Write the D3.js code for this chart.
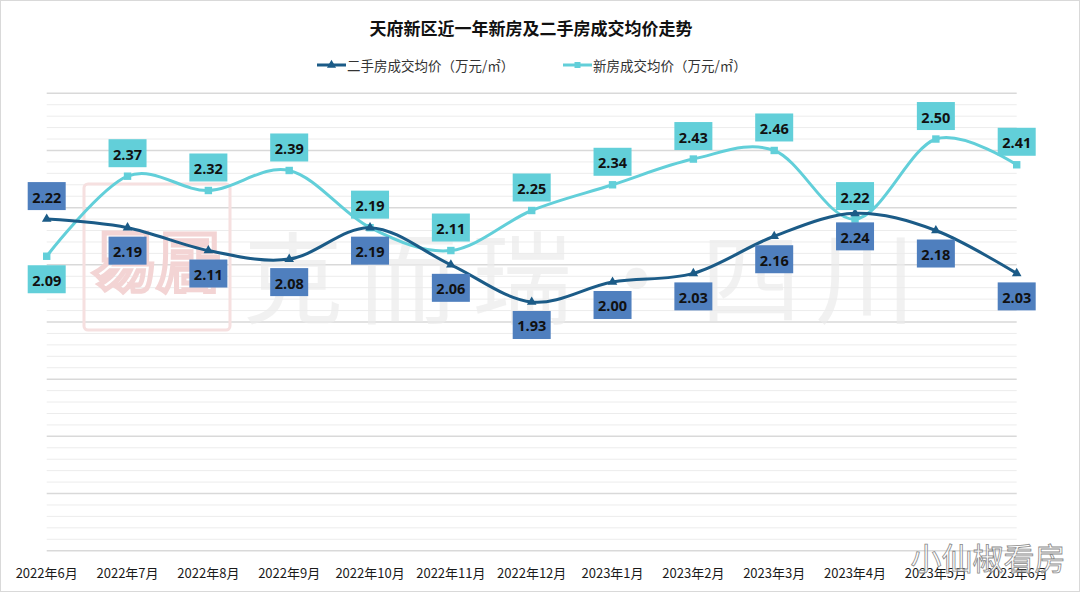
<!DOCTYPE html>
<html>
<head>
<meta charset="utf-8">
<script src="https://cdn.jsdelivr.net/npm/d3@7"></script>
<style>
  html, body { margin: 0; padding: 0; background: #fff; }
  svg { display: block; }
</style>
</head>
<body>
<svg id="chart" width="1080" height="592"></svg>
<script>
// months on the x axis
var months = ["2022年6月", "2022年7月", "2022年8月", "2022年9月", "2022年10月", "2022年11月", "2022年12月",
              "2023年1月", "2023年2月", "2023年3月", "2023年4月", "2023年5月", "2023年6月"];
// average deal price, 万元/㎡
var oldPrice = [2.22, 2.19, 2.11, 2.08, 2.19, 2.06, 1.93, 2.00, 2.03, 2.16, 2.24, 2.18, 2.03];
var newPrice = [2.09, 2.37, 2.32, 2.39, 2.19, 2.11, 2.25, 2.34, 2.43, 2.46, 2.22, 2.50, 2.41];
var seriesNames = ["二手房成交均价（万元/㎡）", "新房成交均价（万元/㎡）"];
var watermarkChars = ["克", "而", "瑞", "·", "四", "川"];

var oldColor = "#1b5b87";
var newColor = "#62cfd9";
var oldBox = "#4f7fbe";
var cjk = "'Noto Sans CJK SC', 'Noto Sans', sans-serif";

var svg = d3.select("#chart");
var W = +svg.attr("width"), H = +svg.attr("height");

// outer frame
svg.append("rect")
  .attr("x", 0.5).attr("y", 0.5)
  .attr("width", W - 1).attr("height", H - 1)
  .attr("fill", "#fff")
  .attr("stroke", "#d9d9d9");

var x = d3.scalePoint()
  .domain(months)
  .range([46.7, 1016.7]);

var yMin = 1.06, yMax = 2.66;
var y = d3.scaleLinear()
  .domain([yMin, yMax])
  .range([550.7, 93.3]);

// gridlines: minor every 0.04, major every 0.2
var grid = d3.range(0, 41).map(function(k) { return {v: yMin + k * 0.04, major: k % 5 == 0}; });
svg.append("g").selectAll("line")
  .data(grid)
  .join("line")
  .attr("x1", x.range()[0])
  .attr("x2", x.range()[1])
  .attr("y1", function(d) { return y(d.v); })
  .attr("y2", function(d) { return y(d.v); })
  .attr("stroke", function(d) { return d.major ? "#d9d9d9" : "#ececec"; })
  .attr("stroke-width", function(d) { return d.major ? 1.5 : 1; });

// faint watermarks
var wm = svg.append("g").attr("pointer-events", "none");
wm.append("rect")
  .attr("x", 84).attr("y", 184).attr("width", 146).attr("height", 146).attr("rx", 4)
  .attr("fill", "none").attr("stroke", "#f6e0e0").attr("stroke-width", 3);
wm.append("text")
  .attr("x", 157).attr("y", 257)
  .attr("text-anchor", "middle").attr("dominant-baseline", "central")
  .style("font-family", cjk).style("font-size", "64px").style("font-weight", "bold")
  .attr("fill", "none").attr("stroke", "#f3d4d4").attr("stroke-width", 5)
  .text("易居");
wm.selectAll(".wmc")
  .data(watermarkChars)
  .join("text")
  .attr("class", "wmc")
  .attr("x", function(d, i) { return 293 + i * 114.5; })
  .attr("y", 272)
  .attr("text-anchor", "middle").attr("dominant-baseline", "central")
  .style("font-family", cjk).style("font-size", "100px")
  .attr("fill", "#ebebeb").attr("fill-opacity", 0.7)
  .text(function(d) { return d; });

// title
svg.append("text")
  .attr("x", 531).attr("y", 27)
  .attr("text-anchor", "middle").attr("dominant-baseline", "central")
  .style("font-family", cjk).style("font-size", "17px").style("font-weight", "bold")
  .attr("fill", "#111")
  .text("天府新区近一年新房及二手房成交均价走势");

// legend
var legend = [
  {name: seriesNames[0], color: oldColor, symbol: d3.symbolTriangle, x: 317},
  {name: seriesNames[1], color: newColor, symbol: d3.symbolSquare, x: 563}
];
var lg = svg.append("g").selectAll("g")
  .data(legend)
  .join("g")
  .attr("transform", function(d) { return "translate(" + d.x + ",65)"; });
lg.append("line")
  .attr("x1", 0).attr("x2", 29)
  .attr("stroke", function(d) { return d.color; })
  .attr("stroke-width", 3);
lg.append("path")
  .attr("transform", "translate(14.5,0)")
  .attr("d", function(d) { return d3.symbol().type(d.symbol).size(36)(); })
  .attr("fill", function(d) { return d.color; });
lg.append("text")
  .attr("x", 30).attr("y", 0)
  .attr("dominant-baseline", "central")
  .style("font-family", cjk).style("font-size", "13.5px")
  .attr("fill", "#333")
  .text(function(d) { return d.name; });

// x axis labels
svg.append("g").selectAll("text")
  .data(months)
  .join("text")
  .attr("x", function(d) { return x(d); })
  .attr("y", 572)
  .attr("text-anchor", "middle").attr("dominant-baseline", "central")
  .style("font-family", cjk).style("font-size", "13px")
  .attr("fill", "#1a1a1a")
  .text(function(d) { return d; });

var line = d3.line()
  .x(function(d, i) { return x(months[i]); })
  .y(function(d) { return y(d); })
  .curve(d3.curveCardinal.tension(0));

var series = [
  {values: newPrice, color: newColor, box: newColor, symbol: d3.symbolSquare, size: 55, dir: -1},
  {values: oldPrice, color: oldColor, box: oldBox, symbol: d3.symbolTriangle, size: 40, dir: 1}
];

series.forEach(function(s) {
  svg.append("path")
    .datum(s.values)
    .attr("d", line)
    .attr("fill", "none")
    .attr("stroke", s.color)
    .attr("stroke-width", 3);

  svg.append("g").selectAll("path")
    .data(s.values)
    .join("path")
    .attr("transform", function(d, i) { return "translate(" + x(months[i]) + "," + y(d) + ")"; })
    .attr("d", d3.symbol().type(s.symbol).size(s.size))
    .attr("fill", s.color);
});

// data labels: old below / new above, first point of each flipped
series.forEach(function(s) {
  var g = svg.append("g").selectAll("g")
    .data(s.values)
    .join("g")
    .attr("transform", function(d, i) {
      var dir = i == 0 ? -s.dir : s.dir;
      return "translate(" + x(months[i]) + "," + (y(d) + dir * 23) + ")";
    });
  g.append("rect")
    .attr("x", -19).attr("y", -14)
    .attr("width", 38).attr("height", 28)
    .attr("fill", s.box);
  g.append("text")
    .attr("text-anchor", "middle").attr("dominant-baseline", "central")
    .attr("y", 1)
    .style("font-family", "'Open Sans', 'Noto Sans', sans-serif")
    .style("font-size", "14.5px").style("font-weight", "bold")
    .attr("fill", "#111")
    .text(function(d) { return d.toFixed(2); });
});

// corner watermark
svg.append("text")
  .attr("x", 988).attr("y", 556)
  .attr("text-anchor", "middle").attr("dominant-baseline", "central")
  .style("font-family", cjk).style("font-size", "31px")
  .attr("fill", "#fff").attr("fill-opacity", 0.6)
  .attr("stroke", "#8a8a8a").attr("stroke-width", 0.8)
  .text("小仙椒看房");
</script>
</body>
</html>
